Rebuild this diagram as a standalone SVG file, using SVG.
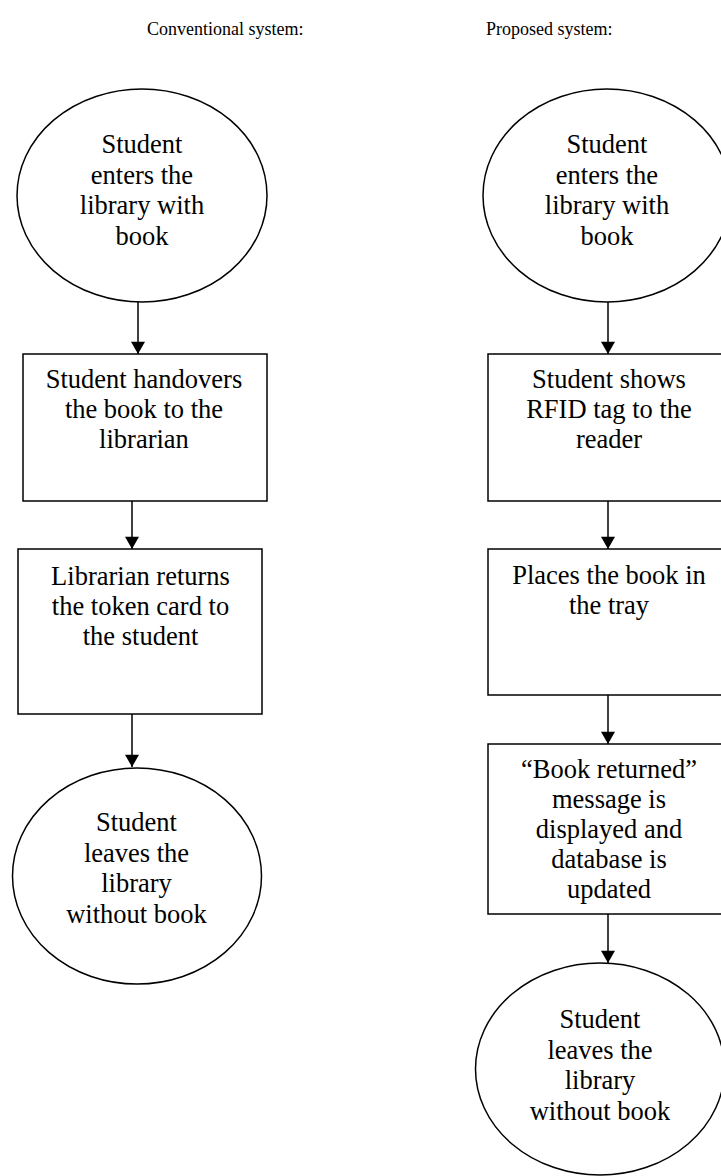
<svg xmlns="http://www.w3.org/2000/svg" width="721" height="1176" viewBox="0 0 721 1176">
<style>
.shape{fill:#fff;stroke:#000;stroke-width:1.5}
.t{font-family:"Liberation Serif","Times New Roman",serif;font-size:26.5px;fill:#000;text-anchor:middle}
.h{font-family:"Liberation Serif","Times New Roman",serif;font-size:18px;fill:#000}
.c{stroke:#000;stroke-width:1.5;fill:none}
</style>
<defs>
<marker id="arr" markerUnits="userSpaceOnUse" markerWidth="16" markerHeight="14" refX="14" refY="8" orient="auto" viewBox="0 0 14 16">
<path d="M0,0 L14,8 L0,16 Z" fill="#000"/>
</marker>
</defs>
<rect width="721" height="1176" fill="#fff"/>
<text class="h" x="147" y="35">Conventional system:</text>
<text class="h" x="486" y="35">Proposed system:</text>

<g id="connectors">
<line class="c" x1="138" y1="302" x2="138" y2="354" marker-end="url(#arr)"/>
<line class="c" x1="132" y1="501" x2="132" y2="549" marker-end="url(#arr)"/>
<line class="c" x1="132" y1="714" x2="132" y2="767" marker-end="url(#arr)"/>
<line class="c" x1="608" y1="302" x2="608" y2="354" marker-end="url(#arr)"/>
<line class="c" x1="608" y1="501" x2="608" y2="549" marker-end="url(#arr)"/>
<line class="c" x1="608" y1="695" x2="608" y2="744" marker-end="url(#arr)"/>
<line class="c" x1="608" y1="914" x2="608" y2="963" marker-end="url(#arr)"/>
</g>

<g id="c-start">
<ellipse class="shape" cx="142" cy="195.5" rx="125" ry="106.5"/>
<text class="t" x="142" y="153">Student</text>
<text class="t" x="142" y="183.5">enters the</text>
<text class="t" x="142" y="214">library with</text>
<text class="t" x="142" y="244.5">book</text>
</g>
<g id="c-handover">
<rect class="shape" x="23" y="354" width="244" height="147"/>
<text class="t" x="144" y="388">Student handovers</text>
<text class="t" x="144" y="418">the book to the</text>
<text class="t" x="144" y="448">librarian</text>
</g>
<g id="c-return">
<rect class="shape" x="18" y="549" width="244" height="165"/>
<text class="t" x="140.5" y="585">Librarian returns</text>
<text class="t" x="140.5" y="615">the token card to</text>
<text class="t" x="140.5" y="645">the student</text>
</g>
<g id="c-end">
<ellipse class="shape" cx="137" cy="876" rx="124.5" ry="108"/>
<text class="t" x="136.5" y="831">Student</text>
<text class="t" x="136.5" y="861.5">leaves the</text>
<text class="t" x="136.5" y="892">library</text>
<text class="t" x="136.5" y="923">without book</text>
</g>

<g id="p-start">
<ellipse class="shape" cx="607" cy="195.5" rx="124" ry="106.5"/>
<text class="t" x="607" y="153">Student</text>
<text class="t" x="607" y="183.5">enters the</text>
<text class="t" x="607" y="214">library with</text>
<text class="t" x="607" y="244.5">book</text>
</g>
<g id="p-rfid">
<rect class="shape" x="488" y="354" width="244" height="147"/>
<text class="t" x="609" y="388">Student shows</text>
<text class="t" x="609" y="418">RFID tag to the</text>
<text class="t" x="609" y="448">reader</text>
</g>
<g id="p-tray">
<rect class="shape" x="488" y="549" width="244" height="146"/>
<text class="t" x="609" y="583.5">Places the book in</text>
<text class="t" x="609" y="613.5">the tray</text>
</g>
<g id="p-message">
<rect class="shape" x="488" y="744" width="244" height="170"/>
<text class="t" x="609" y="777.5">“Book returned”</text>
<text class="t" x="609" y="807.5">message is</text>
<text class="t" x="609" y="837.5">displayed and</text>
<text class="t" x="609" y="867.5">database is</text>
<text class="t" x="609" y="897.5">updated</text>
</g>
<g id="p-end">
<ellipse class="shape" cx="600" cy="1069" rx="124.5" ry="106"/>
<text class="t" x="600" y="1028">Student</text>
<text class="t" x="600" y="1058.5">leaves the</text>
<text class="t" x="600" y="1089">library</text>
<text class="t" x="600" y="1120">without book</text>
</g>
</svg>
